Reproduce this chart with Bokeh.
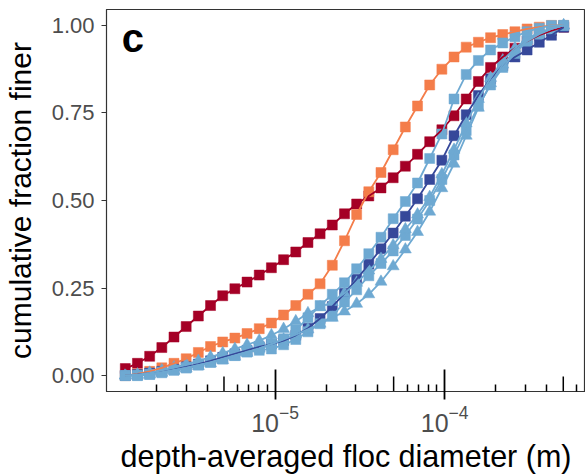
import numpy as np
from bokeh.plotting import figure
from bokeh.models import (Range1d, FixedTicker, PrintfTickFormatter, LogTickFormatter, Label)
from bokeh.embed import file_html
from bokeh.resources import INLINE

# size classes (micrometres), bin centres
size_um = [1.31, 1.545, 1.823, 2.151, 2.537, 2.993, 3.531, 4.166, 4.914, 5.797, 6.839,
           8.068, 9.518, 11.23, 13.25, 15.63, 18.43, 21.75, 25.66, 30.27, 35.70, 42.12,
           49.69, 58.62, 69.15, 81.58, 96.24, 113.5, 133.9, 158.0, 186.4, 219.9, 259.4,
           306.0, 361.0, 425.9, 502.4]

red = [0.02, 0.035, 0.055, 0.08, 0.11, 0.14, 0.17, 0.2, 0.228, 0.248, 0.267, 0.287, 0.308,
       0.331, 0.353, 0.38, 0.405, 0.43, 0.462, 0.49, 0.513, 0.536, 0.565, 0.598, 0.632,
       0.668, 0.702, 0.742, 0.79, 0.84, 0.88, 0.91, 0.935, 0.955, 0.972, 0.985, 0.995]
orange = [0.0, 0.005, 0.012, 0.022, 0.035, 0.048, 0.066, 0.083, 0.096, 0.107, 0.12, 0.134,
          0.15, 0.173, 0.2, 0.232, 0.262, 0.315, 0.385, 0.46, 0.525, 0.58, 0.645, 0.71,
          0.77, 0.83, 0.875, 0.91, 0.938, 0.952, 0.965, 0.974, 0.982, 0.99, 0.995, 1.0, 1.0]
darkblue = [0.0, 0.003, 0.007, 0.012, 0.018, 0.025, 0.033, 0.042, 0.052, 0.062, 0.072,
            0.082, 0.09, 0.1, 0.115, 0.135, 0.163, 0.197, 0.235, 0.275, 0.318, 0.362,
            0.407, 0.455, 0.505, 0.56, 0.615, 0.685, 0.745, 0.8, 0.848, 0.885, 0.91,
            0.93, 0.952, 0.972, 0.995]
lb_sq_a = [0.0, 0.0, 0.003, 0.008, 0.015, 0.022, 0.03, 0.038, 0.047, 0.057, 0.067, 0.078,
           0.09, 0.105, 0.13, 0.165, 0.2, 0.232, 0.265, 0.305, 0.348, 0.395, 0.448, 0.497,
           0.55, 0.62, 0.69, 0.79, 0.86, 0.9, 0.93, 0.95, 0.968, 0.982, 0.992, 1.0, 1.0]
lb_sq_b = [0.0, 0.0, 0.004, 0.01, 0.016, 0.022, 0.03, 0.038, 0.048, 0.058, 0.068, 0.072,
           0.076, 0.088, 0.103, 0.125, 0.148, 0.17, 0.21, 0.245, 0.285, 0.32, 0.356, 0.4,
           0.447, 0.5, 0.56, 0.63, 0.7, 0.77, 0.83, 0.88, 0.92, 0.955, 0.975, 0.99, 1.0]
lb_tri_a = [0.0, 0.003, 0.008, 0.015, 0.023, 0.032, 0.042, 0.053, 0.064, 0.076, 0.088,
            0.1, 0.115, 0.133, 0.155, 0.178, 0.195, 0.21, 0.235, 0.265, 0.3, 0.333, 0.372,
            0.418, 0.46, 0.51, 0.575, 0.645, 0.72, 0.79, 0.85, 0.9, 0.935, 0.962, 0.98,
            0.992, 1.0]
lb_tri_b = [0.0, 0.0, 0.003, 0.008, 0.014, 0.02, 0.027, 0.035, 0.044, 0.054, 0.065, 0.077,
            0.09, 0.103, 0.117, 0.132, 0.148, 0.165, 0.183, 0.205, 0.232, 0.268, 0.312,
            0.36, 0.41, 0.468, 0.535, 0.605, 0.685, 0.765, 0.835, 0.888, 0.928, 0.958,
            0.978, 0.99, 1.0]

x_major = [1e-5, 1e-4]
x_mid = [5e-6, 5e-5, 5e-4]
x_minor = [2e-6, 3e-6, 4e-6, 6e-6, 7e-6, 8e-6, 9e-6,
           2e-5, 3e-5, 4e-5, 6e-5, 7e-5, 8e-5, 9e-5,
           2e-4, 3e-4, 4e-4, 6e-4]
y_ticks = [0.0, 0.25, 0.5, 0.75, 1.0]

RED = "#A50026"
ORANGE = "#F47D4A"
DBLUE = "#36489A"
LBLUE = "#6EA9D2"

x = [v * 1e-6 for v in size_um]

X0, X1 = 1.015e-6, 6.76e-4
Y0, Y1 = -0.0455, 1.0455

p = figure(width=585, height=475, x_axis_type="log",
           x_range=Range1d(X0, X1), y_range=Range1d(Y0, Y1),
           output_backend="svg", toolbar_location=None,
           min_border_left=105, min_border_top=9, min_border_right=0,
           min_border_bottom=82)
p.grid.visible = False
p.background_fill_color = "white"
p.border_fill_color = "white"
p.outline_line_color = "#333333"
p.outline_line_width = 1.2

FONT = "Liberation Sans"

# x axis
xa = p.xaxis[0]
xa.ticker = FixedTicker(ticks=x_major, minor_ticks=x_minor)
xa.formatter = LogTickFormatter()
xa.axis_line_color = "#333333"
xa.major_tick_line_color = "black"
xa.major_tick_line_width = 1.8
xa.major_tick_in = 22
xa.major_tick_out = 8
xa.minor_tick_line_color = "black"
xa.minor_tick_line_width = 1.5
xa.minor_tick_in = 7
xa.minor_tick_out = 0
xa.major_label_text_font = FONT
xa.major_label_text_font_size = "25px"
xa.major_label_text_color = "#4D4D4D"
xa.major_label_standoff = 5
xa.axis_label = "depth-averaged floc diameter (m)"
xa.axis_label_text_font = FONT
xa.axis_label_text_font_size = "30.5px"
xa.axis_label_text_font_style = "normal"
xa.axis_label_text_color = "black"
xa.axis_label_standoff = 4

# y axis
ya = p.yaxis[0]
ya.ticker = FixedTicker(ticks=y_ticks)
ya.formatter = PrintfTickFormatter(format="%.2f")
ya.axis_line_color = "#333333"
ya.major_tick_line_color = "#333333"
ya.major_tick_line_width = 1.2
ya.major_tick_in = 0
ya.major_tick_out = 5
ya.minor_tick_line_color = None
ya.major_label_text_font = FONT
ya.major_label_text_font_size = "22px"
ya.major_label_text_color = "#4D4D4D"
ya.major_label_standoff = 7
ya.axis_label = "cumulative fraction finer"
ya.axis_label_text_font = FONT
ya.axis_label_text_font_size = "30px"
ya.axis_label_text_font_style = "normal"
ya.axis_label_text_color = "black"
ya.axis_label_standoff = 12

series = [
    (red, RED, "square"),
    (orange, ORANGE, "square"),
    (darkblue, DBLUE, "square"),
    (lb_sq_b, LBLUE, "square"),
    (lb_tri_b, LBLUE, "triangle"),
    (lb_tri_a, LBLUE, "triangle"),
    (lb_sq_a, LBLUE, "square"),
]

# points first, then lines on top (as in the original layering)
for ys, col, mk in series:
    size = 10 if mk == "square" else 12
    p.scatter(x, ys, marker=mk, size=size, fill_color=col, line_color=col, line_width=0.5)
for ys, col, mk in series:
    p.line(x, ys, line_color=col, line_width=1.8)

# medium log ticks at 5 x 10^k (inside the frame)
p.scatter(x_mid, [Y0] * len(x_mid), marker="dash", angle=np.pi / 2, size=30,
          line_color="black", line_width=1.5)

p.add_layout(Label(x=1.25e-6, y=0.965, text="c", text_font=FONT, text_font_size="40px",
                   text_font_style="bold", text_color="black", text_baseline="middle",
                   text_align="left"))

open("out.html", "w").write(file_html(p, INLINE))
